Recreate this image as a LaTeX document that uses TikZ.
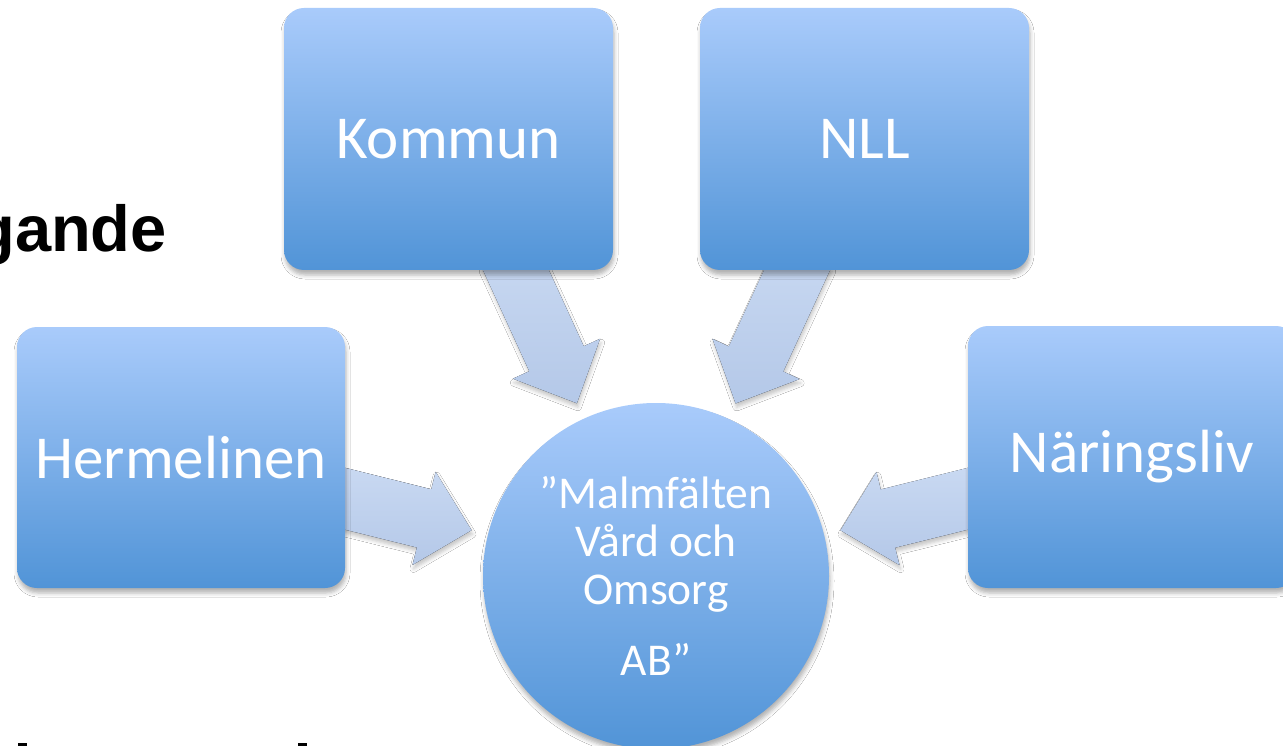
\documentclass[tikz,border=0pt]{standalone}
\usepackage{fontspec}
\setmainfont{Carlito}
\newfontfamily\arialfont{Liberation Sans}
\usetikzlibrary{calc,shadows.blur}
\definecolor{boxtop}{HTML}{A9CBFB}
\definecolor{boxbot}{HTML}{5194D7}
\definecolor{arrtop}{HTML}{C9D9F2}
\definecolor{arrbot}{HTML}{B4C8E8}
\newcommand{\blockarrow}[2]{%
  \coordinate (hb) at ($(#2)!49pt!(#1)$);
  \fill[arrowfill] ($(#1)!30pt!90:(#2)$) -- ($(hb)!30pt!-90:(#1)$) -- ($(hb)!48pt!-90:(#1)$) -- (#2)
    -- ($(hb)!48pt!90:(#1)$) -- ($(hb)!30pt!90:(#1)$) -- ($(#1)!30pt!-90:(#2)$) -- cycle;
}
\begin{document}
\begin{tikzpicture}[x=1pt,y=-1pt,
  softshadow/.style={blur shadow={shadow xshift=1pt, shadow yshift=-5pt, shadow blur radius=4pt, shadow opacity=30}},
  box/.style={rounded corners=20pt, minimum width=329pt, minimum height=262pt,
    top color=boxtop, bottom color=boxbot, text=white, inner sep=0pt,
    font=\fontsize{61}{66}\selectfont, softshadow},
  hub/.style={circle, minimum size=346pt, inner sep=0pt, top color=boxtop, bottom color=boxbot,
    text=white, align=center, font=\fontsize{45.5}{48}\selectfont, softshadow},
  arrowfill/.style={top color=arrtop, bottom color=arrbot,
    blur shadow={shadow xshift=1pt, shadow yshift=-4pt, shadow blur radius=3.5pt, shadow opacity=22}},
  title/.style={font=\arialfont\bfseries\fontsize{65}{70}\selectfont, text=black, inner sep=0pt}
]
\useasboundingbox (0,0) rectangle (1283,746);
\clip (0,0) rectangle (1283,746);
\fill[white] (0,0) rectangle (1283,746);

% partially visible title text
\node[title, anchor=base east] (ttl) at (167,252) {gande};
\fill[black] (18,743) rectangle (27,747);
\fill[black] (298,743) rectangle (307,747);

% node positions (for arrow geometry)
\coordinate (cc) at (656,576);
\coordinate (kA) at (509,255);
\coordinate (nA) at (804,255);
\coordinate (hA) at (330,495);
\coordinate (rA) at (983,495);
\coordinate (kT) at ($(cc)!190pt!(kA)$);
\coordinate (nT) at ($(cc)!190pt!(nA)$);
\coordinate (hT) at ($(cc)!190pt!(hA)$);
\coordinate (rT) at ($(cc)!190pt!(rA)$);

% block arrows
\blockarrow{kA}{kT}
\blockarrow{nA}{nT}
\blockarrow{hA}{hT}
\blockarrow{rA}{rT}

% boxes
\node[box] (kommun) at (448.5,139) {Kommun};
\node[box] (nll) at (864.5,139) {NLL};
\node[box, minimum width=328pt, minimum height=261pt] (herm) at (181,457.5) {Hermelinen};
\node[box, minimum width=328pt] (nar) at (1132,457) {Näringsliv};

% hub
\node[hub] (hub) at (cc) {”Malmfälten\\Vård och\\Omsorg\\[23pt]AB”};
\end{tikzpicture}
\end{document}
